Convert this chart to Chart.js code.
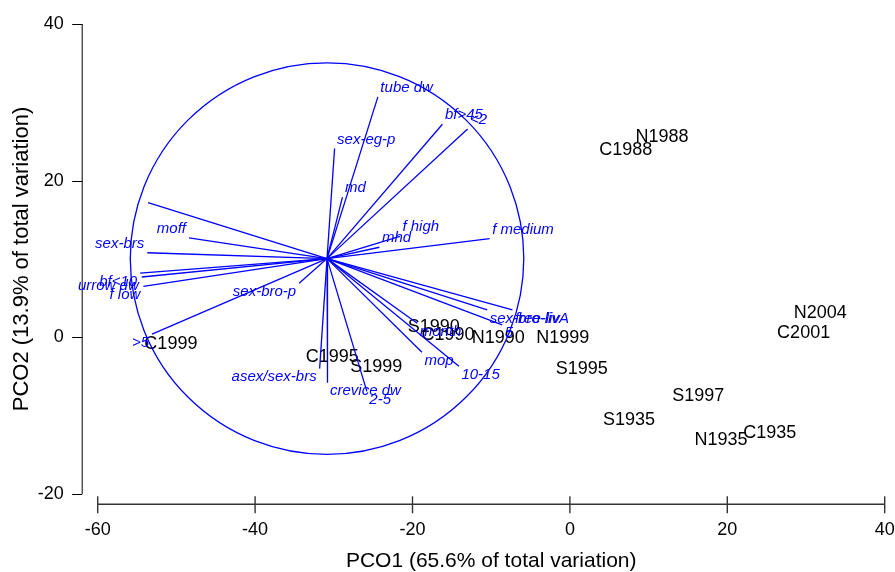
<!DOCTYPE html>
<html>
<head>
<meta charset="utf-8">
<script src="https://cdn.jsdelivr.net/npm/chart.js@4.4.1/dist/chart.umd.min.js"></script>
<style>
  html, body { margin: 0; padding: 0; background: #fff; }
</style>
</head>
<body>
<canvas id="chart" width="895" height="572"></canvas>
<script>
// sample scores (site + year)
const siteLabels = ["N1988", "C1988", "N2004", "C2001", "S1995", "S1997", "S1935", "N1935", "C1935",
  "N1999", "N1990", "S1990", "C1990", "S1999", "C1995", "C1999"];
const siteX = [11.7, 7.1, 31.8, 29.7, 1.5, 16.3, 7.5, 19.2, 25.4, -0.9, -9.1, -17.3, -15.5, -24.6, -30.2, -50.7];
const siteY = [25.6, 23.9, 3.1, 0.6, -4.0, -7.5, -10.5, -13.1, -12.2, -0.1, -0.1, 1.3, 0.3, -3.8, -2.5, -0.9];

// trait vectors (drawn from the circle centre)
const vectorLabels = ["", "moff", "sex-brs", "bf<10", "urrow dw", "f low", ">5", "sex-bro-p",
  "tube dw", "sex-eg-p", "md", "bf>45", "<2", "mhd", "f high", "f medium",
  "sex-bro-livA", "free-liv", "5", "month", "mop", "10-15", "crevice dw", "2-5", "asex/sex-brs"];
const vectorX = [-53.6, -48.4, -53.7, -54.6, -54.4, -54.2, -53.1, -34.4,
  -24.4, -29.9, -28.9, -16.2, -13.0, -24.2, -21.6, -10.2,
  -10.5, -7.3, -8.6, -19.4, -18.8, -14.1, -30.8, -25.8, -31.8];
const vectorY = [17.2, 12.7, 10.8, 8.2, 7.7, 6.5, 0.4, 6.9,
  30.7, 24.1, 17.9, 27.2, 26.6, 11.5, 12.9, 12.6,
  3.5, 3.5, 1.6, 1.8, -1.9, -3.7, -5.8, -6.9, -4.0];
const origin = [-30.86, 10.05];
const circleRadius = 25;

const xTicks = [-60, -40, -20, 0, 20, 40];
const yTicks = [-20, 0, 20, 40];

const FONT = '"Liberation Sans", Arial, Helvetica, sans-serif';
const BLUE = '#0000ff';

const siteDataset = {
  label: 'samples',
  data: siteX.map((x, i) => ({ x, y: siteY[i] })),
  pointRadius: 0,
  showLine: false
};
const vectorDatasets = vectorLabels.map((name, i) => ({
  label: name,
  data: [{ x: origin[0], y: origin[1] }, { x: vectorX[i], y: vectorY[i] }],
  showLine: true,
  borderColor: BLUE,
  borderWidth: 1.3,
  pointRadius: 0,
  fill: false
}));

const biplot = {
  id: 'biplot',
  beforeDatasetsDraw(chart) {
    const { ctx, chartArea, scales: { x, y } } = chart;
    ctx.save();

    // detached axes
    const ax = chartArea.left - 15.5;
    ctx.strokeStyle = '#000';
    ctx.lineWidth = 1;
    ctx.beginPath();
    ctx.moveTo(ax, y.getPixelForValue(yTicks[yTicks.length - 1]));
    ctx.lineTo(ax, y.getPixelForValue(yTicks[0]));
    yTicks.forEach(v => {
      const py = Math.round(y.getPixelForValue(v)) + 0.5;
      ctx.moveTo(ax - 10, py);
      ctx.lineTo(ax, py);
    });
    ctx.stroke();

    const ay = chartArea.bottom + 10.3;
    ctx.strokeStyle = '#333';
    ctx.lineWidth = 1.4;
    ctx.beginPath();
    ctx.moveTo(x.getPixelForValue(xTicks[0]), ay);
    ctx.lineTo(x.getPixelForValue(xTicks[xTicks.length - 1]), ay);
    xTicks.forEach(v => {
      const px = x.getPixelForValue(v);
      ctx.moveTo(px, ay - 8);
      ctx.lineTo(px, ay + 9);
    });
    ctx.stroke();

    // sample labels
    ctx.font = '18px ' + FONT;
    ctx.fillStyle = '#000';
    ctx.textAlign = 'center';
    ctx.textBaseline = 'middle';
    chart.getDatasetMeta(0).data.forEach((pt, i) => {
      ctx.fillText(siteLabels[i], pt.x, pt.y);
    });

    // correlation circle
    const cx = x.getPixelForValue(origin[0]);
    const cy = y.getPixelForValue(origin[1]);
    const rx = x.getPixelForValue(origin[0] + circleRadius) - cx;
    const ry = cy - y.getPixelForValue(origin[1] + circleRadius);
    ctx.strokeStyle = BLUE;
    ctx.lineWidth = 1.3;
    ctx.beginPath();
    ctx.ellipse(cx, cy, rx, ry, 0, 0, Math.PI * 2);
    ctx.stroke();
    ctx.restore();
  },
  afterDatasetsDraw(chart) {
    const { ctx } = chart;
    ctx.save();
    ctx.font = 'italic 15px ' + FONT;
    ctx.fillStyle = BLUE;
    vectorLabels.forEach((name, i) => {
      if (!name) return;
      const end = chart.getDatasetMeta(i + 1).data[1];
      const dx = vectorX[i] - origin[0];
      const dy = vectorY[i] - origin[1];
      ctx.textAlign = dx < 0 ? 'right' : 'left';
      let ty;
      if (dy >= 0) {
        ctx.textBaseline = 'alphabetic';
        ty = end.y - 5;
      } else {
        ctx.textBaseline = 'top';
        ty = end.y + 1;
      }
      ctx.fillText(name, end.x + (dx < 0 ? -3 : 2.5), ty);
    });
    ctx.restore();
  }
};

// invisible tick marks: only used to push the labels away from the plot area
const hiddenTicks = len => ({ display: true, drawOnChartArea: false, drawTicks: true, tickLength: len, color: 'rgba(0,0,0,0)' });

new Chart(document.getElementById('chart'), {
  type: 'scatter',
  data: { datasets: [siteDataset, ...vectorDatasets] },
  options: {
    responsive: false,
    animation: false,
    layout: { padding: { top: 24, right: 10.3, bottom: 0, left: 0 } },
    plugins: { legend: { display: false }, tooltip: { enabled: false } },
    scales: {
      x: {
        type: 'linear',
        min: -60,
        max: 40,
        ticks: { stepSize: 20, color: '#000', padding: 0, maxRotation: 0, font: { family: FONT, size: 18 } },
        grid: hiddenTicks(25),
        border: { display: false },
        title: {
          display: true,
          text: 'PCO1 (65.6% of total variation)',
          color: '#000',
          font: { family: FONT, size: 21, lineHeight: 1 },
          padding: { top: 0, bottom: 0 }
        },
        afterFit: s => { s.height = 78; }
      },
      y: {
        type: 'linear',
        min: -20,
        max: 40,
        ticks: { stepSize: 20, color: '#000', padding: 0, font: { family: FONT, size: 18 } },
        grid: hiddenTicks(34),
        border: { display: false },
        title: {
          display: true,
          text: 'PCO2 (13.9% of total variation)',
          color: '#000',
          font: { family: FONT, size: 22, lineHeight: 1 },
          padding: { top: 11, bottom: 0 }
        },
        afterFit: s => { s.width = 97.7; }
      }
    }
  },
  plugins: [biplot]
});
</script>
</body>
</html>
